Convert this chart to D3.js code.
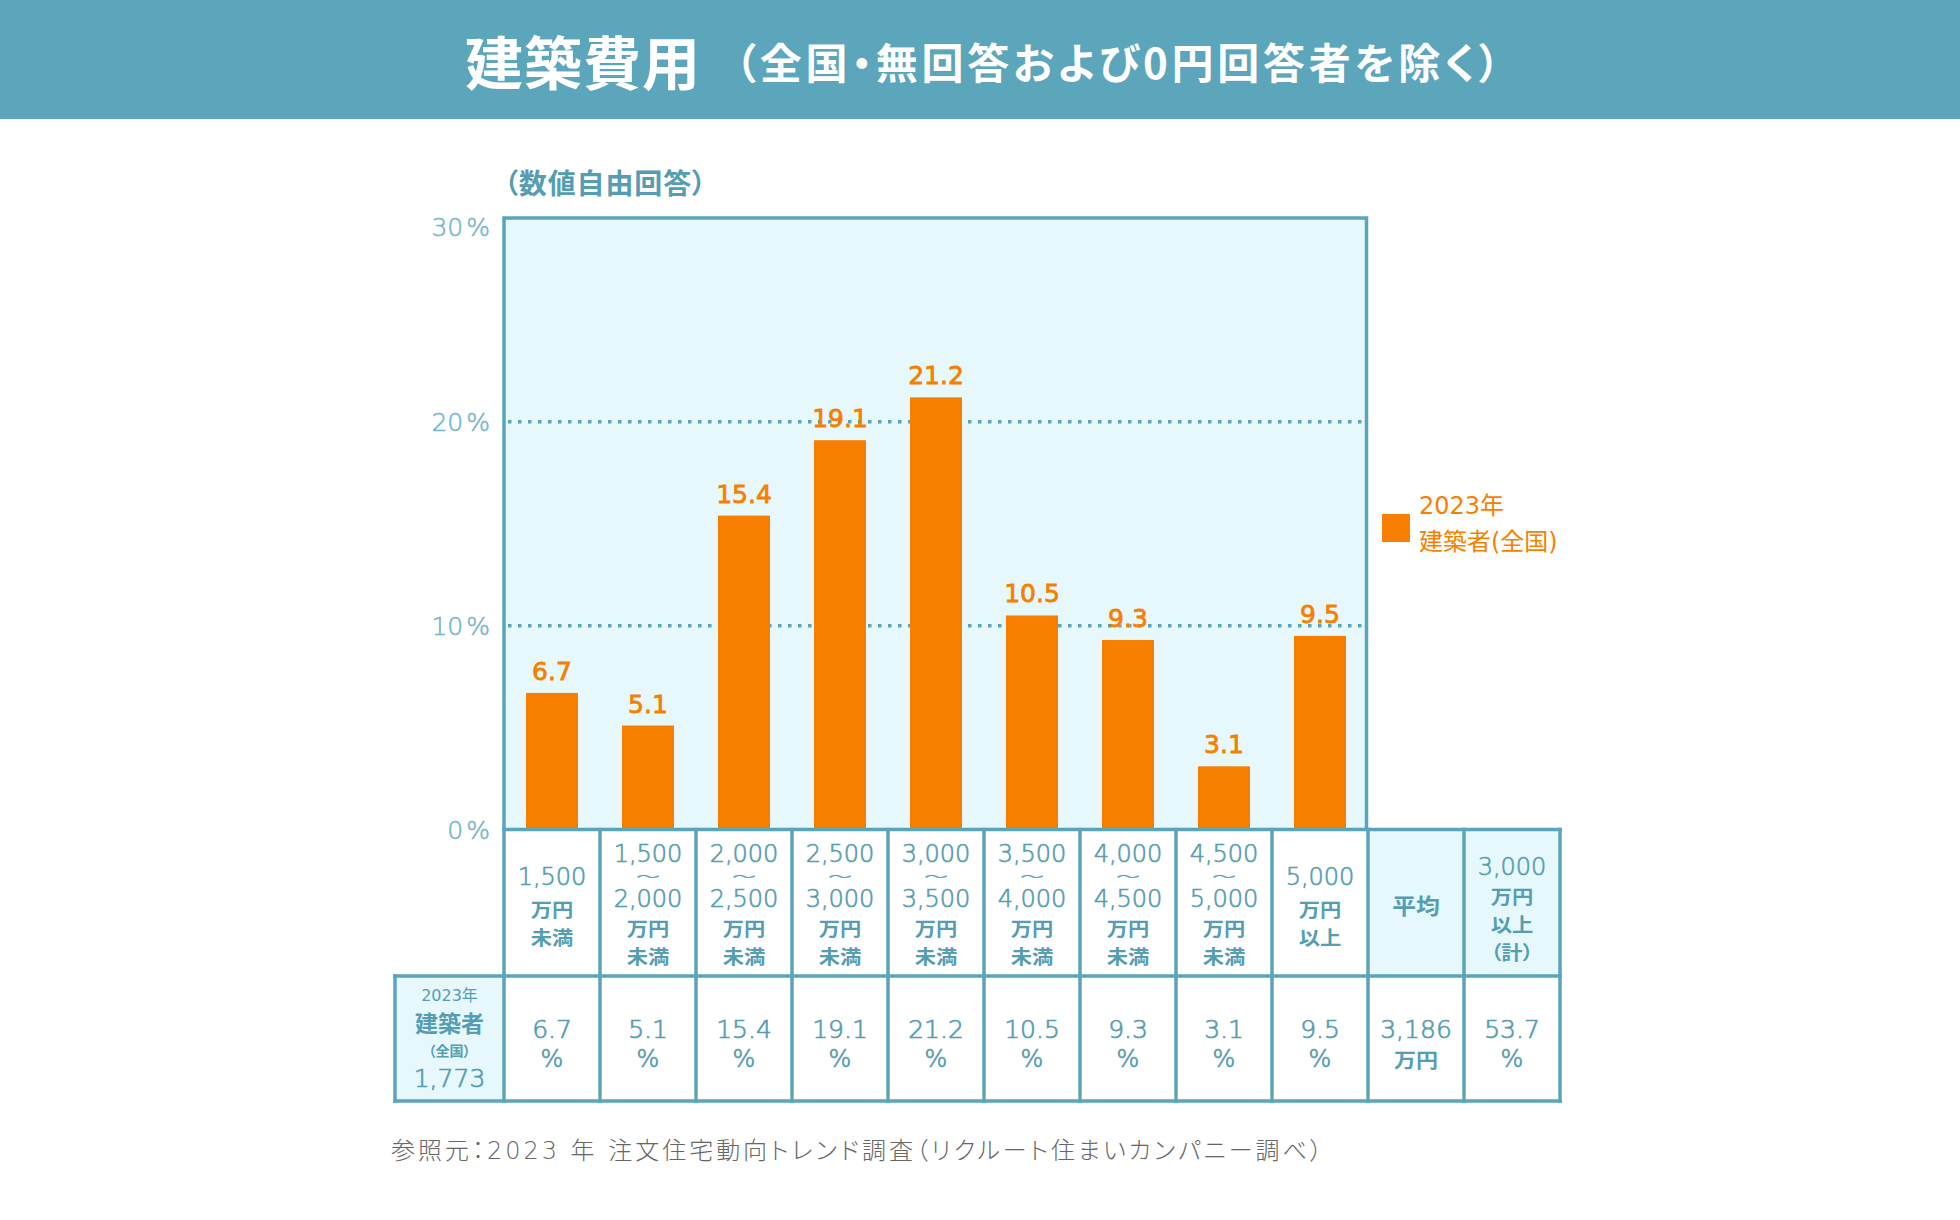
<!DOCTYPE html>
<html><head><meta charset="utf-8">
<script src="https://cdn.jsdelivr.net/npm/d3@7"></script>
<style>
body{margin:0;background:#fff}
svg{display:block}
text{font-feature-settings:"palt"}
</style>
</head><body>
<script>
// ---------- data ----------
const categoryLabels = [
  ["1,500","万円","未満"],
  ["1,500","〜","2,000","万円","未満"],
  ["2,000","〜","2,500","万円","未満"],
  ["2,500","〜","3,000","万円","未満"],
  ["3,000","〜","3,500","万円","未満"],
  ["3,500","〜","4,000","万円","未満"],
  ["4,000","〜","4,500","万円","未満"],
  ["4,500","〜","5,000","万円","未満"],
  ["5,000","万円","以上"]
];
const shares = [6.7, 5.1, 15.4, 19.1, 21.2, 10.5, 9.3, 3.1, 9.5];
const shareUnit = "%";
const summaryLabels = [["平均"], ["3,000","万円","以上","（計）"]];
const summaryValues = [["3,186","万円"], ["53.7","%"]];
const yTicks = [0, 10, 20, 30];
const gridTicks = [10, 20];
const seriesName = ["2023年", "建築者(全国)"];
const rowHeader = ["2023年", "建築者", "（全国）", "1,773"];
const titleMain = "建築費用";
const titleSub = "（全国・無回答および0円回答者を除く）";
const yAxisNote = "（数値自由回答）";
const sourceNote = "参照元：2023 年 注文住宅動向トレンド調査（リクルート住まいカンパニー調べ）";

// ---------- style ----------
const W = 1960, H = 1220;
const TEAL = "#5aa5ba", TEXT = "#559db2", TICK = "#72b6c9", BG = "#e6f8fc", ORANGE = "#f77f00";
const NUMF = "'DejaVu Sans','Noto Sans CJK JP',sans-serif";
const CJKF = "'Noto Sans CJK JP','DejaVu Sans',sans-serif";
const plotTop = 218, axisY = 829.5, row1Bottom = 976, tableBottom = 1101;
const tableLeft = 395, colsLeft = 504, colsRight = 1560;
const LW = 3.5;

const svg = d3.select("body").append("svg").attr("width", W).attr("height", H);

const cols = d3.range(categoryLabels.length + summaryLabels.length);
const x = d3.scaleBand().domain(cols).range([colsLeft, colsRight]).padding(0);
const plotRight = x(categoryLabels.length - 1) + x.bandwidth() - 1.5;
const y = d3.scaleLinear().domain([0, 30]).range([axisY, plotTop]);

// header
svg.append("rect").attr("x",0).attr("y",0).attr("width",W).attr("height",119).attr("fill","#5ba6bb");
svg.append("text").attr("x",465).attr("y",60).attr("dominant-baseline","central")
  .attr("font-family",CJKF).attr("font-weight","bold").attr("font-size",58).attr("fill","#fff")
  .attr("textLength",235).text(titleMain);
svg.append("text").attr("x",735).attr("y",60).attr("dominant-baseline","central")
  .attr("font-family",CJKF).attr("font-weight","bold").attr("font-size",42).attr("fill","#fff")
  .attr("textLength",765).text(titleSub);

// y note
svg.append("text").attr("x",504).attr("y",182).attr("dominant-baseline","central")
  .attr("font-family",CJKF).attr("font-weight","bold").attr("font-size",28).attr("fill",TEXT)
  .attr("textLength",202).text(yAxisNote);

// plot background
svg.append("rect").attr("x",colsLeft).attr("y",plotTop).attr("width",plotRight-colsLeft).attr("height",axisY-plotTop)
  .attr("fill",BG);

// grid
svg.append("g").selectAll("line").data(gridTicks).join("line")
  .attr("x1",colsLeft+4).attr("x2",plotRight-2).attr("y1",d=>y(d)).attr("y2",d=>y(d))
  .attr("stroke",TEAL).attr("stroke-width",3.5).attr("stroke-dasharray","3.5 6.5");

// bars
const barW = 52;
svg.append("g").selectAll("rect").data(shares).join("rect")
  .attr("x",(d,i)=>x(i)+(x.bandwidth()-barW)/2).attr("width",barW)
  .attr("y",d=>y(d)).attr("height",d=>axisY-y(d)).attr("fill",ORANGE);
svg.append("g").selectAll("text").data(shares).join("text")
  .attr("x",(d,i)=>x(i)+x.bandwidth()/2).attr("y",d=>y(d)-13)
  .attr("text-anchor","middle").attr("font-family",NUMF).attr("font-weight","normal")
  .attr("font-size",25).attr("fill",ORANGE).attr("stroke",ORANGE).attr("stroke-width",0.8)
  .text(d=>d3.format(".1f")(d));

// plot border
svg.append("path").attr("d",`M${colsLeft},${axisY}V${plotTop}H${plotRight}V${axisY}`)
  .attr("fill","none").attr("stroke",TEAL).attr("stroke-width",LW);

// y ticks
const tk = svg.append("g").selectAll("text").data(yTicks).join("text")
  .attr("x",490).attr("y",d=>Math.max(y(d), plotTop+9)).attr("dominant-baseline","central")
  .attr("text-anchor","end").attr("font-family",NUMF).attr("font-weight",300)
  .attr("font-size",25).attr("fill",TICK).attr("stroke",TICK).attr("stroke-width",0.5);
tk.append("tspan").text(d=>d);
tk.append("tspan").attr("dx",3).text("%");

// legend
svg.append("rect").attr("x",1382).attr("y",514).attr("width",28).attr("height",28).attr("fill",ORANGE);
svg.append("g").selectAll("text").data(seriesName).join("text")
  .attr("x",1419).attr("y",(d,i)=>506+i*36).attr("dominant-baseline","central")
  .attr("font-family",NUMF).attr("font-size",24).attr("fill",ORANGE).text(d=>d);

// table cells
const tbl = svg.append("g");
tbl.selectAll("rect.h").data(cols).join("rect").attr("class","h")
  .attr("x",d=>x(d)).attr("y",axisY).attr("width",x.bandwidth()).attr("height",row1Bottom-axisY)
  .attr("fill",d=>d>=categoryLabels.length?BG:"#fff");
tbl.append("rect").attr("x",tableLeft).attr("y",row1Bottom).attr("width",colsLeft-tableLeft)
  .attr("height",tableBottom-row1Bottom).attr("fill",BG);

// table lines
const lines = [
  [colsLeft, axisY, colsRight, axisY],
  [tableLeft, row1Bottom, colsRight, row1Bottom],
  [tableLeft, tableBottom, colsRight, tableBottom],
  [tableLeft, row1Bottom, tableLeft, tableBottom]
];
cols.concat([cols.length]).forEach(c=>{
  const xx = c < cols.length ? x(c) : colsRight;
  lines.push([xx, axisY, xx, tableBottom]);
});
tbl.selectAll("line").data(lines).join("line")
  .attr("x1",d=>d[0]).attr("y1",d=>d[1]).attr("x2",d=>d[2]).attr("y2",d=>d[3])
  .attr("stroke",TEAL).attr("stroke-width",LW).attr("stroke-linecap","square");

// cell text helper: one text per line, placed by transform (allows flattening)
const isNum = s => /^[0-9,\.%]+$/.test(s);
function cellText(cx, ys, lineArr, styleFn){
  tbl.append("g").selectAll("text").data(lineArr).join("text")
    .attr("transform",(d,j)=>{
      const st = styleFn(d,j);
      return `translate(${cx},${ys[j]})` + (st.sx ? ` scale(${st.sx},${st.sy})` : "");
    })
    .attr("text-anchor","middle").attr("dominant-baseline","central")
    .attr("font-family",(d,j)=>styleFn(d,j).f).attr("font-size",(d,j)=>styleFn(d,j).s)
    .attr("font-weight",(d,j)=>styleFn(d,j).w)
    .attr("fill",TEXT).attr("stroke",TEXT).attr("stroke-width",(d,j)=>styleFn(d,j).k)
    .text(d=>d);
}

// header-row labels
const offsets = {1:[75], 3:[47,79,107], 4:[37,66,94,122], 5:[24,47,69,98,126]};
function lineStyle(s){
  if (isNum(s)) return {f:NUMF, s:24, w:300, k:0.6};
  if (s === "〜") return {f:CJKF, s:22, w:400, k:0.4, sx:1.1, sy:0.5};
  if (s === "平均") return {f:CJKF, s:22, w:"bold", k:0, sx:1.08, sy:1};
  return {f:CJKF, s:19, w:"bold", k:0, sx:1.12, sy:1};
}
categoryLabels.concat(summaryLabels).forEach((lbl,i)=>{
  cellText(x(i)+x.bandwidth()/2, offsets[lbl.length].map(o=>axisY+o), lbl, lineStyle);
});

// value row
const valueRows = shares.map(v=>[d3.format(".1f")(v), shareUnit]).concat(summaryValues);
valueRows.forEach((vals,i)=>{
  cellText(x(i)+x.bandwidth()/2, [1029,1059], vals, (d,j)=>({
    f: isNum(d)?NUMF:CJKF,
    s: j===0?25:(d==="%"?24:20),
    w: isNum(d)?300:"bold",
    k: isNum(d)?0.7:0,
    sx: isNum(d)?0:1.1, sy: 1
  }));
});

// row header
const rhS = [16, 23, 14, 25], rhW = [400, "bold", "bold", 300], rhK=[0,0,0,0.7];
cellText((tableLeft+colsLeft)/2, [995,1024,1051,1078], rowHeader, (d,j)=>({
  f: NUMF, s: rhS[j], w: rhW[j], k: rhK[j]
}));

// source
svg.append("text").attr("x",391).attr("y",1151).attr("dominant-baseline","central")
  .attr("font-family",NUMF).attr("font-size",24).attr("font-weight",300).attr("fill","#666")
  .attr("textLength",931).text(sourceNote);
</script>
</body></html>
